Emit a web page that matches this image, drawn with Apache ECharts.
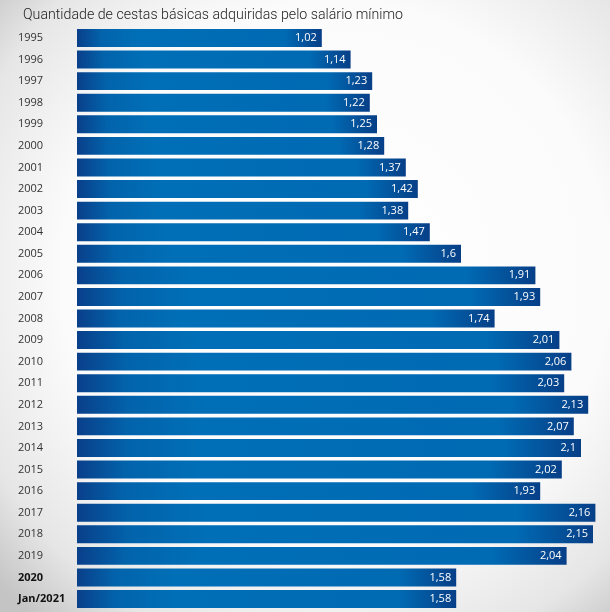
<!DOCTYPE html>
<html>
<head>
<meta charset="utf-8">
<script src="https://cdn.jsdelivr.net/npm/echarts@6/dist/echarts.min.js"></script>
<style>html,body{margin:0;padding:0;}#c{width:610px;height:612px;}</style>
</head>
<body>
<div id="c"></div>
<script>
const titleText = 'Quantidade de cestas básicas adquiridas pelo salário mínimo';
const categories = ['1995','1996','1997','1998','1999','2000','2001','2002','2003','2004','2005','2006','2007','2008','2009','2010','2011','2012','2013','2014','2015','2016','2017','2018','2019','2020','Jan/2021'];
const values = [1.02,1.14,1.23,1.22,1.25,1.28,1.37,1.42,1.38,1.47,1.6,1.91,1.93,1.74,2.01,2.06,2.03,2.13,2.07,2.1,2.02,1.93,2.16,2.15,2.04,1.58,1.58];
const boldCategories = ['2020','Jan/2021'];

const chart = echarts.init(document.getElementById('c'));
chart.setOption({
  backgroundColor: {
    type: 'radial', x: 0.55, y: 0.45, r: 0.75,
    colorStops: [
      {offset: 0, color: '#ffffff'},
      {offset: 0.6, color: '#fbfbfb'},
      {offset: 0.85, color: '#e6e6e6'},
      {offset: 1, color: '#c4c4c4'}
    ]
  },
  title: {
    text: titleText, left: 18, top: 3,
    textStyle: {fontFamily: 'Roboto', fontSize: 14.2, fontWeight: 300, color: '#222222'}
  },
  grid: {left: 77, right: 5, top: 27.2, bottom: 2.2, containLabel: false},
  xAxis: {
    type: 'value', min: 0, max: 2.2, show: false
  },
  yAxis: {
    type: 'category', data: categories, inverse: true,
    axisLine: {show: false}, axisTick: {show: false},
    axisLabel: {
      align: 'left', margin: 59,
      fontFamily: 'Open Sans', fontSize: 11, color: '#333333',
      formatter: function (v) { return boldCategories.indexOf(v) >= 0 ? '{b|' + v + '}' : v; },
      rich: {b: {fontFamily: 'Open Sans', fontSize: 11, fontWeight: 'bold', color: '#111111'}}
    }
  },
  series: [{
    type: 'bar', data: values, barCategoryGap: '17%',
    itemStyle: {
      color: {
        type: 'linear', x: 0, y: 0, x2: 1, y2: 0,
        colorStops: [
          {offset: 0, color: '#0a3f8a'},
          {offset: 0.1, color: '#0263ab'},
          {offset: 0.25, color: '#006fb7'},
          {offset: 0.85, color: '#006ab3'},
          {offset: 1, color: '#073f87'}
        ]
      }
    },
    label: {
      show: true, position: 'insideRight', distance: 5,
      color: '#ffffff', fontFamily: 'Open Sans', fontSize: 11,
      formatter: function (p) { return String(p.value).replace('.', ','); }
    }
  }]
});
</script>
</body>
</html>
